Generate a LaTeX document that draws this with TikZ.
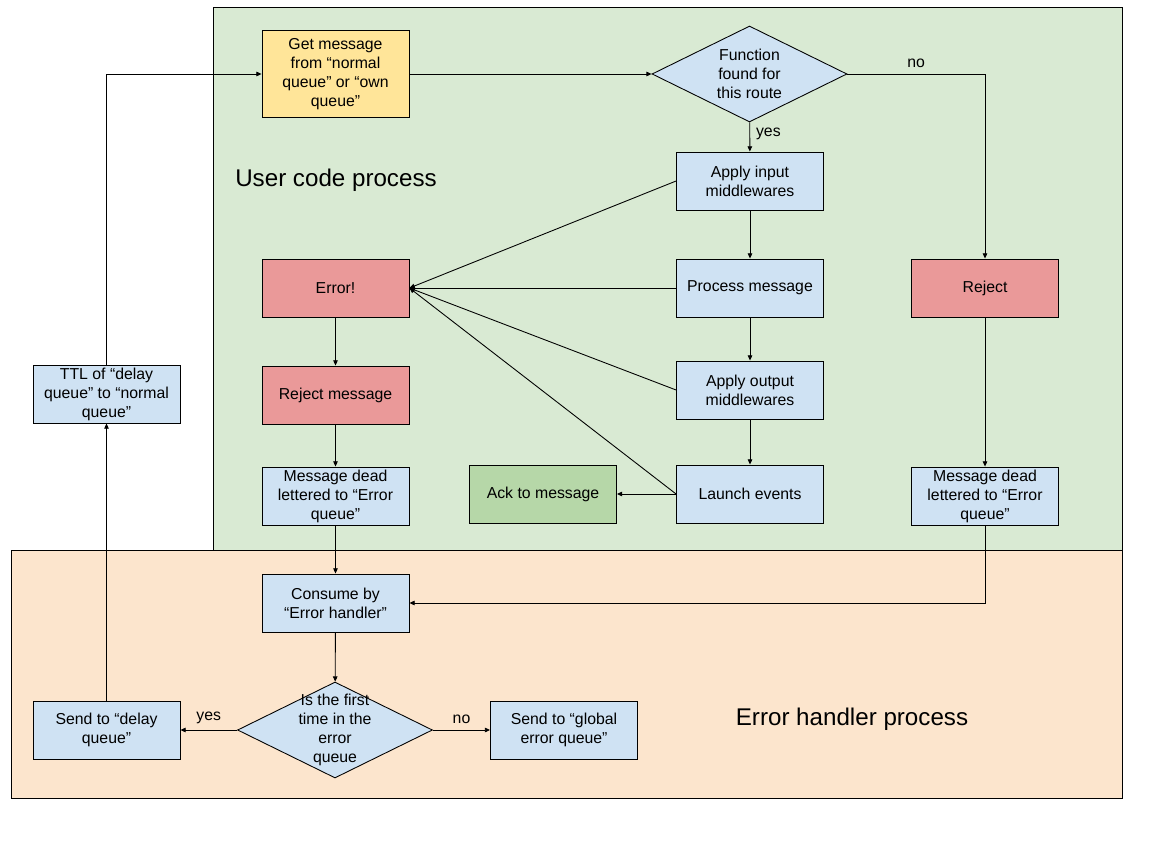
\documentclass[tikz,border=0pt]{standalone}
\usepackage{fontspec}
\setmainfont{Liberation Sans}
\usepackage{tikz}
\usetikzlibrary{arrows.meta,shapes.geometric}
\definecolor{usergreen}{HTML}{D9EAD3}
\definecolor{errpeach}{HTML}{FCE5CD}
\definecolor{boxyellow}{HTML}{FFE599}
\definecolor{boxblue}{HTML}{CFE2F3}
\definecolor{boxred}{HTML}{EA9999}
\definecolor{boxgreen}{HTML}{B6D7A8}
\tikzset{%
	box/.style={draw,line width=0.5pt,fill=#1,minimum width=2.94cm,minimum height=1.16cm,
		align=center,inner sep=1pt,font=\fontsize{9}{10.8}\selectfont},
	box/.default=boxblue,
	arr/.style={-{Triangle[length=3pt,width=2.6pt]},line width=0.5pt},
	region/.style={draw,line width=0.5pt,fill=#1}
}

\begin{document}
\begin{tikzpicture}[x=0.02cm,y=-0.02cm,
	decision/.style={diamond,draw,line width=0.5pt,fill=boxblue,inner sep=0pt,
		minimum width=3.9cm,minimum height=1.92cm},
	lbl/.style={align=center,font=\fontsize{9}{10.8}\selectfont},
	big/.style={font=\fontsize{13.75}{16}\selectfont}]
				\useasboundingbox (0,0) rectangle (1152,864);
				% process areas
				\draw [region=usergreen] (213,7) rectangle (1122,550);
				\draw [region=errpeach] (11,550) rectangle (1122,798);
				\node [big] (user) at (336,180) {User code process};
				\node [big] (handler) at (852,719) {Error handler process};
				% user code process
				\node [box=boxyellow, minimum height=1.74cm] (get) at (335.5,74) {Get message\\from “normal\\queue” or “own\\queue”};
				\node [decision, label={[lbl]center:Function\\found for\\this route}] (fn) at (749.5,74) {};
				\node [box] (in) at (750,181) {Apply input\\middlewares};
				\node [box] (proc) at (750,288) {Process message};
				\node [box] (out) at (750,390) {Apply output\\middlewares};
				\node [box] (ev) at (750,494) {Launch events};
				\node [box=boxgreen] (ack) at (543,494) {Ack to message};
				\node [box=boxred] (err) at (335.5,288) {Error!};
				\node [box=boxred] (rejm) at (335.5,395) {Reject message};
				\node [box] (deadl) at (335.5,496) {Message dead\\lettered to “Error\\queue”};
				\node [box=boxred] (rej) at (985,288) {Reject};
				\node [box] (deadr) at (985,496) {Message dead\\lettered to “Error\\queue”};
				% error handler process
				\node [box] (cons) at (335.5,603) {Consume by\\“Error handler”};
				\node [decision, label={[lbl]center:Is the first\\time in the\\error\\queue}] (first) at (335,730) {};
				\node [box] (delay) at (106.5,730) {Send to “delay\\queue”};
				\node [box] (global) at (564,730) {Send to “global\\error queue”};
				\node [box] (ttl) at (106.5,394) {TTL of “delay\\queue” to “normal\\queue”};
				% connectors
				\draw [arr] (get) -- (fn);
				\draw [arr] (fn.east) -| node [lbl, pos=0.25, above] {no} (rej);
				\draw [arr] (fn) -- node [lbl, pos=0.4, right] {yes} (in);
				\draw [arr] (in) -- (proc);
				\draw [arr] (proc) -- (out);
				\draw [arr] (out) -- (ev);
				\draw [arr] (in.west) -- (err.east);
				\draw [arr] (proc.west) -- (err.east);
				\draw [arr] (out.west) -- (err.east);
				\draw [arr] (ev.west) -- (err.east);
				\draw [arr] (ev) -- (ack);
				\draw [arr] (err) -- (rejm);
				\draw [arr] (rejm) -- (deadl);
				\draw [arr] (deadl) -- (cons);
				\draw [arr] (rej) -- (deadr);
				\draw [arr] (deadr) |- (cons);
				\draw [arr] (cons) -- (first);
				\draw [arr] (first) -- node [lbl, above] {yes} (delay);
				\draw [arr] (first) -- node [lbl, above] {no} (global);
				\draw [arr] (delay) -- (ttl);
				\draw [arr] (ttl) |- (get);
			\end{tikzpicture}
\end{document}
